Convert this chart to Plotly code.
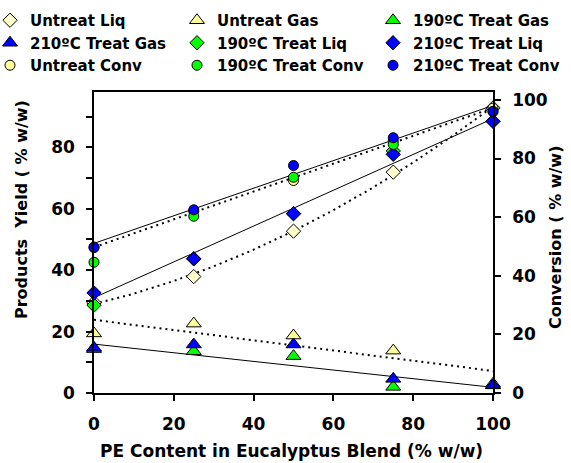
import numpy as np
import plotly.graph_objects as go

# ---------------- data ----------------
pe_content = [0, 25, 50, 75, 100]

untreat_liq = [29.4, 37.9, 52.7, 71.9, 92.8]
untreat_gas = [19.4, 22.6, 18.7, 13.8, 3.0]
treat190_gas = [14.3, 13.6, 12.0, 2.0, 2.5]
treat210_gas = [14.7, 15.8, 15.8, 4.6, 2.5]
treat190_liq = [28.6, 43.7, 58.4, 78.8, 88.5]
treat210_liq = [32.6, 43.7, 58.4, 77.7, 88.5]

untreat_conv = [49.8, 62.0, 72.5, 86.0, 97.2]
treat190_conv = [44.6, 60.3, 73.6, 84.8, 96.0]
treat210_conv = [49.6, 62.5, 77.6, 87.1, 96.1]

x_ticks = [0, 20, 40, 60, 80, 100]
y_ticks = [0, 20, 40, 60, 80]
y_minor = [10, 30, 50, 70, 90]
y2_ticks = [0, 20, 40, 60, 80, 100]

FONT = "DejaVu Sans"
YELLOW_L = "#FFFFCC"
YELLOW = "#FFFF99"
GREEN = "#00FF00"
BLUE = "#0000FF"

W, H = 571, 463
ML, MR, MT, MB = 94, 78, 92, 70
PW, PH = W - ML - MR, H - MT - MB

fig = go.Figure()

# ---------------- trendlines (fitted from the data) ----------------
xs = np.linspace(0, 100, 101)


def trend(values, deg, dash, width, yaxis="y"):
    coef = np.polyfit(pe_content, values, deg)
    fig.add_trace(go.Scatter(
        x=xs, y=np.polyval(coef, xs), mode="lines", yaxis=yaxis,
        line=dict(color="black", width=width, dash=dash),
        showlegend=False, hoverinfo="skip", cliponaxis=False))


trend(untreat_gas, 1, "2px,4px", 2)
trend(treat190_gas, 1, "solid", 1)
trend(untreat_liq, 2, "2px,4px", 2)
trend(treat210_liq, 1, "solid", 1)
trend(untreat_conv, 1, "2px,4px", 2, "y2")
trend(treat210_conv, 1, "solid", 1, "y2")

# ---------------- markers ----------------
series = [
    ("Untreat Liq", untreat_liq, "diamond", YELLOW_L, 11, "y", "legend"),
    ("Untreat Gas", untreat_gas, "triangle-up", YELLOW, 13, "y", "legend2"),
    ("190ºC Treat Gas", treat190_gas, "triangle-up", GREEN, 13, "y", "legend3"),
    ("210ºC Treat Gas", treat210_gas, "triangle-up", BLUE, 13, "y", "legend"),
    ("190ºC Treat Liq", treat190_liq, "diamond", GREEN, 11, "y", "legend2"),
    ("210ºC Treat Liq", treat210_liq, "diamond", BLUE, 11, "y", "legend3"),
    ("Untreat Conv", untreat_conv, "circle", YELLOW, 10, "y2", "legend"),
    ("190ºC Treat Conv", treat190_conv, "circle", GREEN, 10, "y2", "legend2"),
    ("210ºC Treat Conv", treat210_conv, "circle", BLUE, 10, "y2", "legend3"),
]
for name, vals, sym, col, size, yax, leg in series:
    fig.add_trace(go.Scatter(
        x=pe_content, y=vals, mode="markers", name=name, yaxis=yax,
        legend=leg, cliponaxis=False,
        marker=dict(symbol=sym, color=col, size=size,
                    line=dict(color="black", width=1))))

tickfont = dict(family=FONT, size=17, color="black", weight="bold")
titlefont = dict(family=FONT, size=16, color="black", weight="bold")
xtitlefont = dict(family=FONT, size=17, color="black", weight="bold")
legfont = dict(family=FONT, size=15, color="black", weight="bold")

common_axis = dict(showline=True, linecolor="black", linewidth=1.5,
                   ticks="outside", ticklen=6, tickwidth=1.5,
                   tickcolor="black", showgrid=False, zeroline=False,
                   tickfont=tickfont)

fig.update_layout(
    width=W, height=H,
    margin=dict(l=ML, r=MR, t=MT, b=MB, autoexpand=False),
    paper_bgcolor="white", plot_bgcolor="white",
    xaxis=dict(range=[0, 100], tickvals=x_ticks, mirror=True,
               ticklabelstandoff=9, **common_axis),
    yaxis=dict(range=[0, 98], tickvals=y_ticks, ticklabelstandoff=8,
               minor=dict(tickvals=y_minor, ticks="outside", ticklen=6,
                          tickwidth=1.5, tickcolor="black"),
               **common_axis),
    yaxis2=dict(range=[0, 102.7], tickvals=y2_ticks, overlaying="y",
                side="right", ticklabelstandoff=8, **common_axis),
    showlegend=True,
)


def px_x(p):
    return (p - ML) / PW


def px_y(p):
    return (H - MB - p) / PH


leg_common = dict(xref="paper", yref="paper", xanchor="left",
                  yanchor="top", y=px_y(4), bgcolor="rgba(0,0,0,0)",
                  font=legfont, tracegroupgap=0, borderwidth=0)
fig.update_layout(
    legend=dict(x=px_x(-10), **leg_common),
    legend2=dict(x=px_x(177), **leg_common),
    legend3=dict(x=px_x(373), **leg_common),
)

fig.add_annotation(text="PE Content in Eucalyptus Blend (% w/w)",
                   xref="paper", yref="paper", x=px_x(291), y=px_y(451),
                   xanchor="center", yanchor="middle", showarrow=False,
                   font=xtitlefont)
fig.add_annotation(text="Products\u00a0 Yield ( % w/w)",
                   xref="paper", yref="paper", x=px_x(21), y=px_y(210),
                   xanchor="center", yanchor="middle", showarrow=False,
                   textangle=-90, font=titlefont)
fig.add_annotation(text="Conversion ( % w/w)",
                   xref="paper", yref="paper", x=px_x(555), y=px_y(238),
                   xanchor="center", yanchor="middle", showarrow=False,
                   textangle=-90, font=titlefont)

fig.write_html(
    "out.html",
    config={"displayModeBar": False},
    post_script="document.body.style.margin='0';"
                "document.body.style.padding='0';"
                "document.body.style.overflow='hidden';")
